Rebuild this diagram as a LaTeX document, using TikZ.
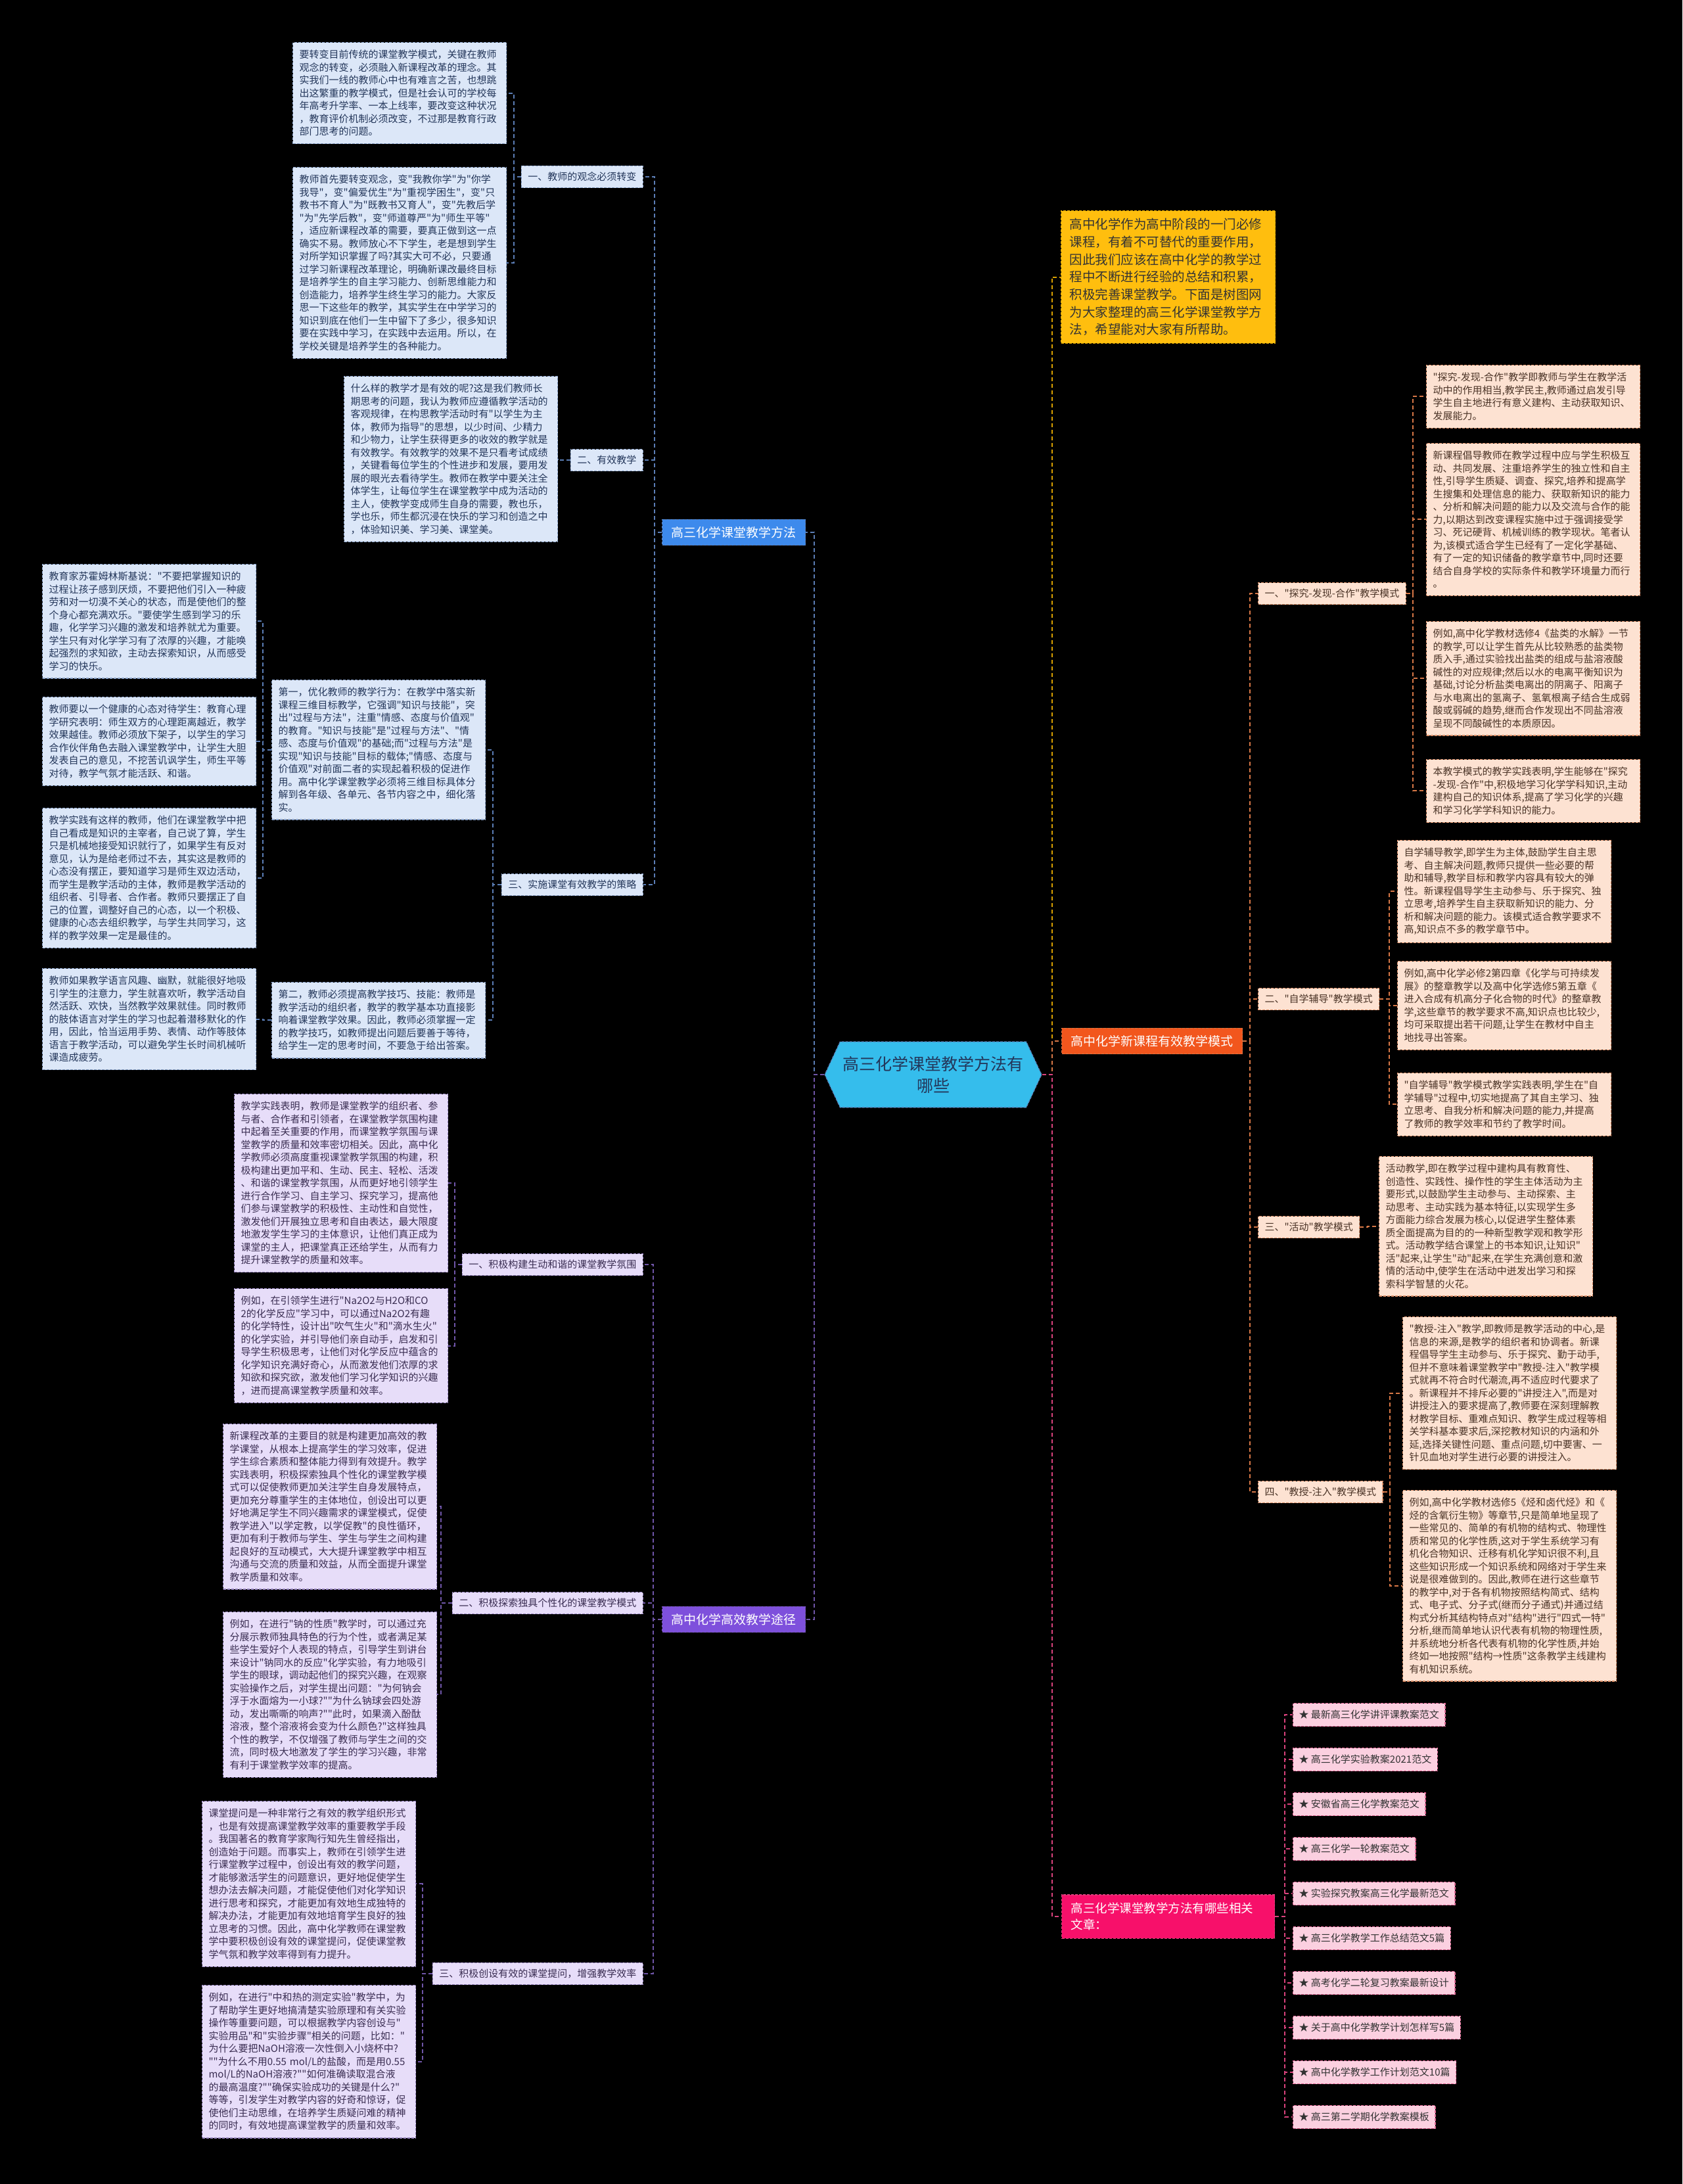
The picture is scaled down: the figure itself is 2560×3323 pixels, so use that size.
\documentclass[tikz,border=0pt]{standalone}
\usepackage{fontspec}
\setmainfont{Noto Sans CJK SC}[Ligatures=TeXOff]
\usepackage{tikz}
\usetikzlibrary{shapes.symbols}

\definecolor{hubC}{HTML}{35BDEC}
\definecolor{blueB}{HTML}{3D8AEC}
\definecolor{blueL}{HTML}{DCE7F8}
\definecolor{blueE}{HTML}{5B7DB5}
\definecolor{blueT}{HTML}{23365A}
\definecolor{purpB}{HTML}{7E50DC}
\definecolor{purpL}{HTML}{E7DDF9}
\definecolor{purpE}{HTML}{6F55A8}
\definecolor{purpT}{HTML}{3A2D52}
\definecolor{oranB}{HTML}{F2561D}
\definecolor{oranL}{HTML}{FDE2D2}
\definecolor{oranE}{HTML}{D77746}
\definecolor{oranT}{HTML}{4A3326}
\definecolor{pinkB}{HTML}{F7106A}
\definecolor{pinkL}{HTML}{FBD0E0}
\definecolor{pinkE}{HTML}{D9427C}
\definecolor{yelB}{HTML}{FFBE0E}
\definecolor{yelE}{HTML}{D9A000}

\newcommand{\leaffont}{\fontsize{15}{19.5}\selectfont}
\newcommand{\branchfont}{\fontsize{19}{25}\selectfont}
\newcommand{\introfont}{\fontsize{19.5}{26.7}\selectfont}
\newcommand{\hubfont}{\fontsize{25}{33}\selectfont}

\tikzset{
  wire/.style={dash pattern=on 6pt off 4pt, line width=2pt},
  bluewire/.style={wire, draw=blueE},
  purpwire/.style={wire, draw=purpE},
  orangewire/.style={wire, draw=oranE},
  pinkwire/.style={wire, draw=pinkE},
  yellowwire/.style={wire, draw=yelE},
  box/.style={dash pattern=on 4pt off 2pt, line width=1.2pt},
  leaf/.style={box, text width=305pt, align=left, inner xsep=10pt,
    inner ysep=11.5pt, anchor=north west, font=\leaffont},
  blueleaf/.style={leaf, fill=blueL, draw=blueE!70, text=blueT},
  purpleaf/.style={leaf, fill=purpL, draw=purpE!70, text=purpT},
  orangeleaf/.style={leaf, fill=oranL, draw=oranE!80, text=oranT},
  label/.style={box, inner xsep=10pt, inner ysep=9.5pt, font=\leaffont},
  bluelabel/.style={label, fill=blueL, draw=blueE!70, text=blueT, anchor=east},
  purplabel/.style={label, fill=purpL, draw=purpE!70, text=purpT, anchor=east},
  orangelabel/.style={label, fill=oranL, draw=oranE!80, text=oranT, anchor=west},
  pinkitem/.style={box, fill=pinkL, draw=pinkE!80, text=black!80, inner xsep=9pt,
    inner ysep=10.5pt, font=\leaffont, anchor=west},
  branch/.style={box, inner xsep=14pt, inner ysep=11pt, text=white, font=\branchfont, anchor=west},
  hubnode/.style={signal, signal to=west and east, signal pointer angle=130,
    fill=hubC, draw=blueE, box, text=blueT, align=center, font=\hubfont,
    minimum width=330pt, minimum height=100pt}
}

\begin{document}
\begin{tikzpicture}[x=1pt, y=-1pt]
\useasboundingbox (0,0) rectangle (2560,3323);
\fill[black] (0,0) rectangle (2560,3323);

% centre and main branches
\node[hubnode] (hub) at (1420,1635) {高三化学课堂教学方法有\\哪些};
\node[branch, fill=blueB, draw=blueE] (b1) at (1007,810) {高三化学课堂教学方法};
\node[branch, fill=purpB, draw=purpE] (b2) at (1007,2464) {高中化学高效教学途径};
\node[box, fill=yelB, draw=yelE, text=black!80, text width=300pt, align=left,
  inner xsep=13pt, inner ysep=11.5pt, font=\introfont, anchor=north west] (intro) at (1614,320)
  {高中化学作为高中阶段的一门必修\\
   课程，有着不可替代的重要作用，\\
   因此我们应该在高中化学的教学过\\
   程中不断进行经验的总结和积累，\\
   积极完善课堂教学。下面是树图网\\
   为大家整理的高三化学课堂教学方\\
   法，希望能对大家有所帮助。};
\node[branch, fill=oranB, draw=oranE] (ob) at (1615,1584) {高中化学新课程有效教学模式};
\node[branch, fill=pinkB, draw=pinkE, text width=296pt, align=left, font=\fontsize{18.5}{25}\selectfont,
  inner ysep=12pt] (pb) at (1615,2916) {高三化学课堂教学方法有哪些相关\\文章：};

% blue side
\node[bluelabel] (l1) at (979,269) {一、教师的观念必须转变};
\node[bluelabel] (l2) at (979,700) {二、有效教学};
\node[bluelabel] (l3) at (979,1346) {三、实施课堂有效教学的策略};

\node[blueleaf] (a1) at (445,64) {要转变目前传统的课堂教学模式，关键在教师\\
观念的转变，必须融入新课程改革的理念。其\\
实我们一线的教师心中也有难言之苦，也想跳\\
出这繁重的教学模式，但是社会认可的学校每\\
年高考升学率、一本上线率，要改变这种状况\\
，教育评价机制必须改变，不过那是教育行政\\
部门思考的问题。};
\node[blueleaf] (a2) at (445,254) {教师首先要转变观念，变"我教你学"为"你学\\
我导"，变"偏爱优生"为"重视学困生"，变"只\\
教书不育人"为"既教书又育人"，变"先教后学\\
"为"先学后教"，变"师道尊严"为"师生平等"\\
，适应新课程改革的需要，要真正做到这一点\\
确实不易。教师放心不下学生，老是想到学生\\
对所学知识掌握了吗?其实大可不必，只要通\\
过学习新课程改革理论，明确新课改最终目标\\
是培养学生的自主学习能力、创新思维能力和\\
创造能力，培养学生终生学习的能力。大家反\\
思一下这些年的教学，其实学生在中学学习的\\
知识到底在他们一生中留下了多少，很多知识\\
要在实践中学习，在实践中去运用。所以，在\\
学校关键是培养学生的各种能力。};
\node[blueleaf] (a3) at (523,572) {什么样的教学才是有效的呢?这是我们教师长\\
期思考的问题，我认为教师应遵循教学活动的\\
客观规律，在构思教学活动时有"以学生为主\\
体，教师为指导"的思想，以少时间、少精力\\
和少物力，让学生获得更多的收效的教学就是\\
有效教学。有效教学的效果不是只看考试成绩\\
，关键看每位学生的个性进步和发展，要用发\\
展的眼光去看待学生。教师在教学中要关注全\\
体学生，让每位学生在课堂教学中成为活动的\\
主人，使教学变成师生自身的需要，教也乐，\\
学也乐，师生都沉浸在快乐的学习和创造之中\\
，体验知识美、学习美、课堂美。};
\node[blueleaf] (a8) at (413,1034) {第一，优化教师的教学行为：在教学中落实新\\
课程三维目标教学，它强调"知识与技能"，突\\
出"过程与方法"，注重"情感、态度与价值观"\\
的教育。"知识与技能"是"过程与方法"、"情\\
感、态度与价值观"的基础;而"过程与方法"是\\
实现"知识与技能"目标的载体;"情感、态度与\\
价值观"对前面二者的实现起着积极的促进作\\
用。高中化学课堂教学必须将三维目标具体分\\
解到各年级、各单元、各节内容之中，细化落\\
实。};
\node[blueleaf] (a9) at (413,1494) {第二，教师必须提高教学技巧、技能：教师是\\
教学活动的组织者，教学的教学基本功直接影\\
响着课堂教学效果。因此，教师必须掌握一定\\
的教学技巧，如教师提出问题后要善于等待，\\
给学生一定的思考时间，不要急于给出答案。};
\node[blueleaf] (a4) at (64,858) {教育家苏霍姆林斯基说："不要把掌握知识的\\
过程让孩子感到厌烦，不要把他们引入一种疲\\
劳和对一切漠不关心的状态，而是使他们的整\\
个身心都充满欢乐。"要使学生感到学习的乐\\
趣，化学学习兴趣的激发和培养就尤为重要。\\
学生只有对化学学习有了浓厚的兴趣，才能唤\\
起强烈的求知欲，主动去探索知识，从而感受\\
学习的快乐。};
\node[blueleaf] (a5) at (64,1060) {教师要以一个健康的心态对待学生：教育心理\\
学研究表明：师生双方的心理距离越近，教学\\
效果越佳。教师必须放下架子，以学生的学习\\
合作伙伴角色去融入课堂教学中，让学生大胆\\
发表自己的意见，不挖苦讥讽学生，师生平等\\
对待，教学气氛才能活跃、和谐。};
\node[blueleaf] (a6) at (64,1229) {教学实践有这样的教师，他们在课堂教学中把\\
自己看成是知识的主宰者，自己说了算，学生\\
只是机械地接受知识就行了，如果学生有反对\\
意见，认为是给老师过不去，其实这是教师的\\
心态没有摆正，要知道学习是师生双边活动，\\
而学生是教学活动的主体，教师是教学活动的\\
组织者、引导者、合作者。教师只要摆正了自\\
己的位置，调整好自己的心态，以一个积极、\\
健康的心态去组织教学，与学生共同学习，这\\
样的教学效果一定是最佳的。};
\node[blueleaf] (a7) at (64,1473) {教师如果教学语言风趣、幽默，就能很好地吸\\
引学生的注意力，学生就喜欢听，教学活动自\\
然活跃、欢快，当然教学效果就佳。同时教师\\
的肢体语言对学生的学习也起着潜移默化的作\\
用，因此，恰当运用手势、表情、动作等肢体\\
语言于教学活动，可以避免学生长时间机械听\\
课造成疲劳。};

% purple side
\node[purplabel] (m1) at (979,1924) {一、积极构建生动和谐的课堂教学氛围};
\node[purplabel] (m2) at (979,2439) {二、积极探索独具个性化的课堂教学模式};
\node[purplabel] (m3) at (979,3003) {三、积极创设有效的课堂提问，增强教学效率};

\node[purpleaf] (p1) at (356,1664) {教学实践表明，教师是课堂教学的组织者、参\\
与者、合作者和引领者，在课堂教学氛围构建\\
中起着至关重要的作用，而课堂教学氛围与课\\
堂教学的质量和效率密切相关。因此，高中化\\
学教师必须高度重视课堂教学氛围的构建，积\\
极构建出更加平和、生动、民主、轻松、活泼\\
、和谐的课堂教学氛围，从而更好地引领学生\\
进行合作学习、自主学习、探究学习，提高他\\
们参与课堂教学的积极性、主动性和自觉性，\\
激发他们开展独立思考和自由表达，最大限度\\
地激发学生学习的主体意识，让他们真正成为\\
课堂的主人，把课堂真正还给学生，从而有力\\
提升课堂教学的质量和效率。};
\node[purpleaf] (p2) at (356,1960) {例如，在引领学生进行"Na2O2与H2O和CO\\
2的化学反应"学习中，可以通过Na2O2有趣\\
的化学特性，设计出"吹气生火"和"滴水生火"\\
的化学实验，并引导他们亲自动手，启发和引\\
导学生积极思考，让他们对化学反应中蕴含的\\
化学知识充满好奇心，从而激发他们浓厚的求\\
知欲和探究欲，激发他们学习化学知识的兴趣\\
，进而提高课堂教学质量和效率。};
\node[purpleaf] (p3) at (339,2166) {新课程改革的主要目的就是构建更加高效的教\\
学课堂，从根本上提高学生的学习效率，促进\\
学生综合素质和整体能力得到有效提升。教学\\
实践表明，积极探索独具个性化的课堂教学模\\
式可以促使教师更加关注学生自身发展特点，\\
更加充分尊重学生的主体地位，创设出可以更\\
好地满足学生不同兴趣需求的课堂模式，促使\\
教学进入"以学定教，以学促教"的良性循环，\\
更加有利于教师与学生、学生与学生之间构建\\
起良好的互动模式，大大提升课堂教学中相互\\
沟通与交流的质量和效益，从而全面提升课堂\\
教学质量和效率。};
\node[purpleaf] (p4) at (339,2452) {例如，在进行"钠的性质"教学时，可以通过充\\
分展示教师独具特色的行为个性，或者满足某\\
些学生爱好个人表现的特点，引导学生到讲台\\
来设计"钠同水的反应"化学实验，有力地吸引\\
学生的眼球，调动起他们的探究兴趣，在观察\\
实验操作之后，对学生提出问题："为何钠会\\
浮于水面熔为一小球?""为什么钠球会四处游\\
动，发出嘶嘶的响声?""此时，如果滴入酚酞\\
溶液，整个溶液将会变为什么颜色?"这样独具\\
个性的教学，不仅增强了教师与学生之间的交\\
流，同时极大地激发了学生的学习兴趣，非常\\
有利于课堂教学效率的提高。};
\node[purpleaf] (p5) at (307,2740) {课堂提问是一种非常行之有效的教学组织形式\\
，也是有效提高课堂教学效率的重要教学手段\\
。我国著名的教育学家陶行知先生曾经指出，\\
创造始于问题。而事实上，教师在引领学生进\\
行课堂教学过程中，创设出有效的教学问题，\\
才能够激活学生的问题意识，更好地促使学生\\
想办法去解决问题，才能促使他们对化学知识\\
进行思考和探究，才能更加有效地生成独特的\\
解决办法，才能更加有效地培育学生良好的独\\
立思考的习惯。因此，高中化学教师在课堂教\\
学中要积极创设有效的课堂提问，促使课堂教\\
学气氛和教学效率得到有力提升。};
\node[purpleaf] (p6) at (307,3020) {例如，在进行"中和热的测定实验"教学中，为\\
了帮助学生更好地搞清楚实验原理和有关实验\\
操作等重要问题，可以根据教学内容创设与"\\
实验用品"和"实验步骤"相关的问题，比如："\\
为什么要把NaOH溶液一次性倒入小烧杯中?\\
""为什么不用0.55 mol/L的盐酸，而是用0.55\\
mol/L的NaOH溶液?""如何准确读取混合液\\
的最高温度?""确保实验成功的关键是什么?"\\
等等，引发学生对教学内容的好奇和惊讶，促\\
使他们主动思维，在培养学生质疑问难的精神\\
的同时，有效地提高课堂教学的质量和效率。};

% orange side
\node[orangelabel] (o1) at (1914,903) {一、"探究-发现-合作"教学模式};
\node[orangelabel] (o2) at (1914,1520) {二、"自学辅导"教学模式};
\node[orangelabel] (o3) at (1914,1867) {三、"活动"教学模式};
\node[orangelabel] (o4) at (1914,2270) {四、"教授-注入"教学模式};

\node[orangeleaf] (r1) at (2170,555) {"探究-发现-合作"教学即教师与学生在教学活\\
动中的作用相当,教学民主,教师通过启发引导\\
学生自主地进行有意义建构、主动获取知识、\\
发展能力。};
\node[orangeleaf] (r2) at (2170,674) {新课程倡导教师在教学过程中应与学生积极互\\
动、共同发展、注重培养学生的独立性和自主\\
性,引导学生质疑、调查、探究,培养和提高学\\
生搜集和处理信息的能力、获取新知识的能力\\
、分析和解决问题的能力以及交流与合作的能\\
力,以期达到改变课程实施中过于强调接受学\\
习、死记硬背、机械训练的教学现状。笔者认\\
为,该模式适合学生已经有了一定化学基础、\\
有了一定的知识储备的教学章节中,同时还要\\
结合自身学校的实际条件和教学环境量力而行\\
。};
\node[orangeleaf] (r3) at (2170,945) {例如,高中化学教材选修4《盐类的水解》一节\\
的教学,可以让学生首先从比较熟悉的盐类物\\
质入手,通过实验找出盐类的组成与盐溶液酸\\
碱性的对应规律;然后以水的电离平衡知识为\\
基础,讨论分析盐类电离出的阴离子、阳离子\\
与水电离出的氢离子、氢氧根离子结合生成弱\\
酸或弱碱的趋势,继而合作发现出不同盐溶液\\
呈现不同酸碱性的本质原因。};
\node[orangeleaf] (r4) at (2170,1155) {本教学模式的教学实践表明,学生能够在"探究\\
-发现-合作"中,积极地学习化学学科知识,主动\\
建构自己的知识体系,提高了学习化学的兴趣\\
和学习化学学科知识的能力。};
\node[orangeleaf] (r5) at (2126,1278) {自学辅导教学,即学生为主体,鼓励学生自主思\\
考、自主解决问题,教师只提供一些必要的帮\\
助和辅导,教学目标和教学内容具有较大的弹\\
性。新课程倡导学生主动参与、乐于探究、独\\
立思考,培养学生自主获取新知识的能力、分\\
析和解决问题的能力。该模式适合教学要求不\\
高,知识点不多的教学章节中。};
\node[orangeleaf] (r6) at (2126,1462) {例如,高中化学必修2第四章《化学与可持续发\\
展》的整章教学以及高中化学选修5第五章《\\
进入合成有机高分子化合物的时代》的整章教\\
学,这些章节的教学要求不高,知识点也比较少,\\
均可采取提出若干问题,让学生在教材中自主\\
地找寻出答案。};
\node[orangeleaf] (r7) at (2126,1632) {"自学辅导"教学模式教学实践表明,学生在"自\\
学辅导"过程中,切实地提高了其自主学习、独\\
立思考、自我分析和解决问题的能力,并提高\\
了教师的教学效率和节约了教学时间。};
\node[orangeleaf] (r8) at (2098,1759) {活动教学,即在教学过程中建构具有教育性、\\
创造性、实践性、操作性的学生主体活动为主\\
要形式,以鼓励学生主动参与、主动探索、主\\
动思考、主动实践为基本特征,以实现学生多\\
方面能力综合发展为核心,以促进学生整体素\\
质全面提高为目的的一种新型教学观和教学形\\
式。活动教学结合课堂上的书本知识,让知识"\\
活"起来,让学生"动"起来,在学生充满创意和激\\
情的活动中,使学生在活动中迸发出学习和探\\
索科学智慧的火花。};
\node[orangeleaf] (r9) at (2134,2003) {"教授-注入"教学,即教师是教学活动的中心,是\\
信息的来源,是教学的组织者和协调者。新课\\
程倡导学生主动参与、乐于探究、勤于动手,\\
但并不意味着课堂教学中"教授-注入"教学模\\
式就再不符合时代潮流,再不适应时代要求了\\
。新课程并不排斥必要的"讲授注入",而是对\\
讲授注入的要求提高了,教师要在深刻理解教\\
材教学目标、重难点知识、教学生成过程等相\\
关学科基本要求后,深挖教材知识的内涵和外\\
延,选择关键性问题、重点问题,切中要害、一\\
针见血地对学生进行必要的讲授注入。};
\node[orangeleaf] (r10) at (2134,2267) {例如,高中化学教材选修5《烃和卤代烃》和《\\
烃的含氧衍生物》等章节,只是简单地呈现了\\
一些常见的、简单的有机物的结构式、物理性\\
质和常见的化学性质,这对于学生系统学习有\\
机化合物知识、迁移有机化学知识很不利,且\\
这些知识形成一个知识系统和网络对于学生来\\
说是很难做到的。因此,教师在进行这些章节\\
的教学中,对于各有机物按照结构简式、结构\\
式、电子式、分子式(继而分子通式)并通过结\\
构式分析其结构特点对"结构"进行"四式一特"\\
分析,继而简单地认识代表有机物的物理性质,\\
并系统地分析各代表有机物的化学性质,并始\\
终如一地按照"结构→性质"这条教学主线建构\\
有机知识系统。};

% related articles
\foreach \t [count=\i from 0] in {最新高三化学讲评课教案范文, 高三化学实验教案2021范文,
  安徽省高三化学教案范文, 高三化学一轮教案范文, 实验探究教案高三化学最新范文,
  高三化学教学工作总结范文5篇, 高考化学二轮复习教案最新设计, 关于高中化学教学计划怎样写5篇,
  高中化学教学工作计划范文10篇, 高三第二学期化学教案模板}
  \node[pinkitem] (k\i) at (1967,{2609+68*\i}) {★ \t};

% connectors
\draw[bluewire] (hub.west) -- ++(-15,0) |- (b1.east);
\draw[purpwire] (hub.west) -- ++(-15,0) |- (b2.east);
\draw[yellowwire] (hub.east) -- ++(15,0) |- (intro.west);
\draw[orangewire] (hub.east) -- ++(15,0) |- (ob.west);
\draw[pinkwire] (hub.east) -- ++(15,0) |- (pb.west);

\foreach \c in {l1,l2,l3} \draw[bluewire] (b1.west) -- ++(-11,0) |- (\c.east);
\foreach \c in {a1,a2} \draw[bluewire] (l1.west) -- ++(-11,0) |- (\c.east);
\draw[bluewire] (l2.west) -- ++(-16,0) |- (a3.east);
\foreach \c in {a8,a9} \draw[bluewire] (l3.west) -- ++(-13,0) |- (\c.east);
\foreach \c in {a4,a5,a6} \draw[bluewire] (a8.west) -- ++(-13,0) |- (\c.east);
\draw[bluewire] (a9.west) -- ++(-13,0) |- (a7.east);

\foreach \c in {m1,m2,m3} \draw[purpwire] (b2.west) -- ++(-13,0) |- (\c.east);
\foreach \c in {p1,p2} \draw[purpwire] (m1.west) -- ++(-11,0) |- (\c.east);
\foreach \c in {p3,p4} \draw[purpwire] (m2.west) -- ++(-17,0) |- (\c.east);
\foreach \c in {p5,p6} \draw[purpwire] (m3.west) -- ++(-15,0) |- (\c.east);

\foreach \c in {o1,o2,o3,o4} \draw[orangewire] (ob.east) -- ++(11,0) |- (\c.west);
\foreach \c in {r1,r2,r3,r4} \draw[orangewire] (o1.east) -- ++(10,0) |- (\c.west);
\foreach \c in {r5,r6,r7} \draw[orangewire] (o2.east) -- ++(15,0) |- (\c.west);
\draw[orangewire] (o3.east) -- ++(12,0) |- (r8.west);
\foreach \c in {r9,r10} \draw[orangewire] (o4.east) -- ++(10,0) |- (\c.west);

\foreach \i in {0,...,9} \draw[pinkwire] (pb.east) -- ++(15,0) |- (k\i.west);
\end{tikzpicture}
\end{document}
